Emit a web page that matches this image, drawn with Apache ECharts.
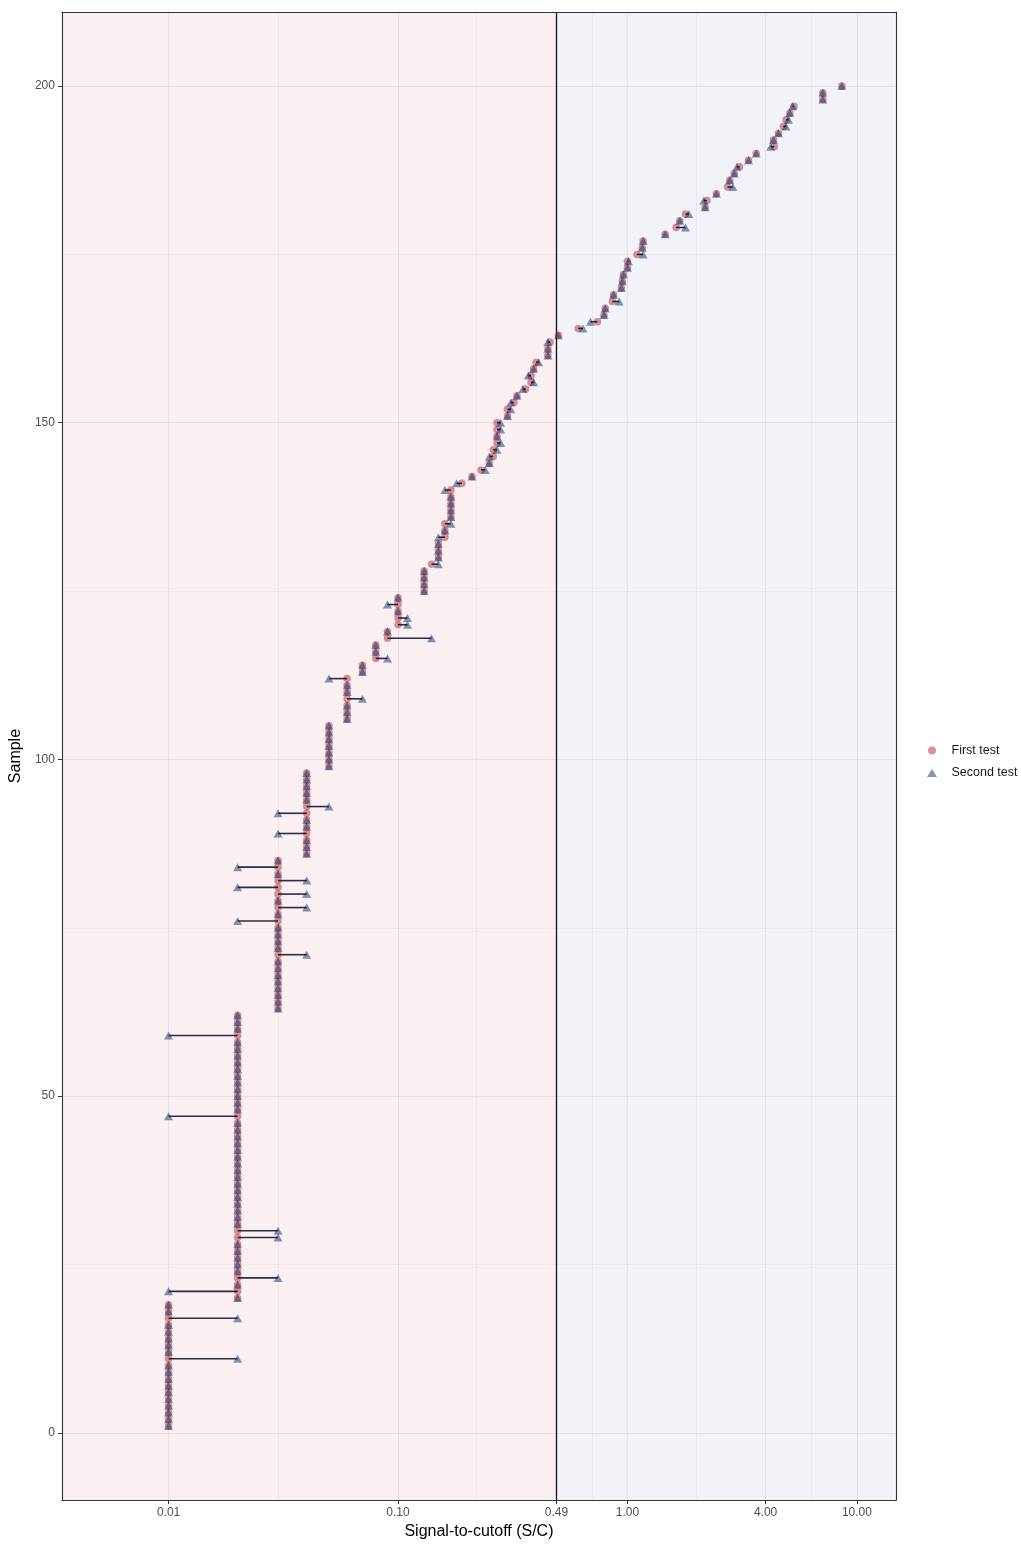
<!DOCTYPE html>
<html>
<head>
<meta charset="utf-8">
<script src="https://cdn.jsdelivr.net/npm/echarts@6/dist/echarts.min.js"></script>
<style>
html,body{margin:0;padding:0;background:#ffffff;overflow:hidden;}
#chart{width:1021px;height:1545px;}
</style>
</head>
<body>
<div id="chart"></div>
<script>
// ---------------- data ----------------
const sampleIds = Array.from({length: 200}, (_, i) => i + 1);

const firstTest = [
  0.01,0.01,0.01,0.01,0.01,0.01,0.01,0.01,0.01,0.01,   // 1-10
  0.01,0.01,0.01,0.01,0.01,0.01,0.01,0.01,0.01,0.02,   // 11-20
  0.02,0.02,0.02,0.02,0.02,0.02,0.02,0.02,0.02,0.02,   // 21-30
  0.02,0.02,0.02,0.02,0.02,0.02,0.02,0.02,0.02,0.02,   // 31-40
  0.02,0.02,0.02,0.02,0.02,0.02,0.02,0.02,0.02,0.02,   // 41-50
  0.02,0.02,0.02,0.02,0.02,0.02,0.02,0.02,0.02,0.02,   // 51-60
  0.02,0.02,0.03,0.03,0.03,0.03,0.03,0.03,0.03,0.03,   // 61-70
  0.03,0.03,0.03,0.03,0.03,0.03,0.03,0.03,0.03,0.03,   // 71-80
  0.03,0.03,0.03,0.03,0.03,0.04,0.04,0.04,0.04,0.04,   // 81-90
  0.04,0.04,0.04,0.04,0.04,0.04,0.04,0.04,0.05,0.05,   // 91-100
  0.05,0.05,0.05,0.05,0.05,0.06,0.06,0.06,0.06,0.06,   // 101-110
  0.06,0.06,0.07,0.07,0.08,0.08,0.08,0.09,0.09,0.10,   // 111-120
  0.10,0.10,0.10,0.10,0.13,0.13,0.13,0.13,0.14,0.15,   // 121-130
  0.15,0.15,0.16,0.16,0.16,0.17,0.17,0.17,0.17,0.17,   // 131-140
  0.19,0.21,0.23,0.25,0.26,0.26,0.27,0.27,0.27,0.27,   // 141-150
  0.30,0.30,0.32,0.33,0.36,0.38,0.38,0.39,0.40,0.45,   // 151-160
  0.45,0.46,0.50,0.61,0.74,0.79,0.80,0.86,0.87,0.94,   // 161-170
  0.95,0.96,1.00,1.00,1.10,1.16,1.17,1.46,1.63,1.69,   // 171-180
  1.79,2.18,2.22,2.44,2.73,2.79,2.92,3.08,3.37,3.64,   // 181-190
  4.36,4.33,4.55,4.78,4.91,5.10,5.32,7.10,7.10,8.60    // 191-200
];

const secondTest = [
  0.01,0.01,0.01,0.01,0.01,0.01,0.01,0.01,0.01,0.01,   // 1-10
  0.02,0.01,0.01,0.01,0.01,0.01,0.02,0.01,0.01,0.02,   // 11-20
  0.01,0.02,0.03,0.02,0.02,0.02,0.02,0.02,0.03,0.03,   // 21-30
  0.02,0.02,0.02,0.02,0.02,0.02,0.02,0.02,0.02,0.02,   // 31-40
  0.02,0.02,0.02,0.02,0.02,0.02,0.01,0.02,0.02,0.02,   // 41-50
  0.02,0.02,0.02,0.02,0.02,0.02,0.02,0.02,0.01,0.02,   // 51-60
  0.02,0.02,0.03,0.03,0.03,0.03,0.03,0.03,0.03,0.03,   // 61-70
  0.04,0.03,0.03,0.03,0.03,0.02,0.03,0.04,0.03,0.04,   // 71-80
  0.02,0.04,0.03,0.02,0.03,0.04,0.04,0.04,0.03,0.04,   // 81-90
  0.04,0.03,0.05,0.04,0.04,0.04,0.04,0.04,0.05,0.05,   // 91-100
  0.05,0.05,0.05,0.05,0.05,0.06,0.06,0.06,0.07,0.06,   // 101-110
  0.06,0.05,0.07,0.07,0.09,0.08,0.08,0.14,0.09,0.11,   // 111-120
  0.11,0.10,0.09,0.10,0.13,0.13,0.13,0.13,0.15,0.15,   // 121-130
  0.15,0.15,0.15,0.16,0.17,0.17,0.17,0.17,0.17,0.16,   // 131-140
  0.18,0.21,0.24,0.25,0.25,0.27,0.28,0.27,0.28,0.28,   // 141-150
  0.30,0.31,0.31,0.33,0.35,0.39,0.37,0.39,0.41,0.45,   // 151-160
  0.45,0.45,0.50,0.64,0.69,0.79,0.80,0.92,0.87,0.94,   // 161-170
  0.95,0.96,1.00,1.01,1.17,1.16,1.17,1.46,1.79,1.69,   // 171-180
  1.85,2.18,2.15,2.44,2.88,2.79,2.92,3.00,3.37,3.64,   // 181-190
  4.21,4.33,4.55,4.91,5.03,5.10,5.25,7.10,7.10,8.60    // 191-200
];

const xTickValues = [0.01, 0.10, 0.49, 1.00, 4.00, 10.00];
const xTickLabels = ['0.01', '0.10', '0.49', '1.00', '4.00', '10.00'];
const yTickValues = [0, 50, 100, 150, 200];
const cutoffValue = 0.49;
const seriesNames = ['First test', 'Second test'];
const xTitle = 'Signal-to-cutoff (S/C)';
const yTitle = 'Sample';

// ---------------- layout / style ----------------
const X_MIN = 0.00343, X_MAX = 14.8;
const Y_MIN = -10, Y_MAX = 211;
const FONT = '"Liberation Sans", Arial, Helvetica, sans-serif';

// minor grid lines halfway between major breaks (in transformed space)
const xMinor = [];
for (let i = 0; i < xTickValues.length - 1; i++) xMinor.push(Math.sqrt(xTickValues[i] * xTickValues[i + 1]));
const yMinor = [];
for (let i = 0; i < yTickValues.length - 1; i++) yMinor.push((yTickValues[i] + yTickValues[i + 1]) / 2);

const gridMajor = {color: 'rgba(60,40,50,0.08)', width: 1.1, type: 'solid'};
const gridMinor = {color: 'rgba(60,40,50,0.065)', width: 0.7, type: 'solid'};

const gridLines = [
  ...xTickValues.map(v => ({xAxis: v, lineStyle: gridMajor})),
  ...xMinor.map(v => ({xAxis: v, lineStyle: gridMinor})),
  ...yTickValues.map(v => ({yAxis: v, lineStyle: gridMajor})),
  ...yMinor.map(v => ({yAxis: v, lineStyle: gridMinor}))
];

function xLabel(v) {
  let best = 0, bd = Infinity;
  xTickValues.forEach((t, i) => { const d = Math.abs(Math.log(v) - Math.log(t)); if (d < bd) { bd = d; best = i; } });
  return xTickLabels[best];
}

const circleColor = 'rgba(170,20,22,0.56)';
const triColor = 'rgba(5,45,105,0.62)';

const chart = echarts.init(document.getElementById('chart'), null, {renderer: 'canvas'});

const option = {
  animation: false,
  backgroundColor: '#ffffff',
  textStyle: {fontFamily: FONT},
  grid: {left: 60, right: 125, top: 12, bottom: 41, containLabel: false},
  legend: {
    orient: 'vertical',
    left: 922,
    top: 738.5,
    itemWidth: 10,
    itemHeight: 8,
    itemGap: 8.5,
    data: [
      {name: seriesNames[0], icon: 'circle'},
      {name: seriesNames[1], icon: 'triangle'}
    ],
    textStyle: {fontFamily: FONT, fontSize: 12.5, color: '#1a1a1a', padding: [0, 0, 0, 9.5], lineHeight: 14}
  },
  xAxis: [
    {
      type: 'log', logBase: 10, min: X_MIN, max: X_MAX, gridIndex: 0, z: 10,
      name: xTitle, nameLocation: 'middle', nameGap: 22,
      nameTextStyle: {fontFamily: FONT, fontSize: 16, color: '#000'},
      axisLine: {show: true, onZero: false, lineStyle: {color: '#333333', width: 1.1}},
      axisTick: {show: true, length: 4, customValues: xTickValues, lineStyle: {color: '#333333', width: 1}},
      axisLabel: {show: true, margin: 7, customValues: xTickValues, formatter: v => xLabel(v),
                  fontFamily: FONT, fontSize: 12, color: '#4d4d4d'},
      splitLine: {show: false}, minorSplitLine: {show: false}
    },
    {
      type: 'log', logBase: 10, min: X_MIN, max: X_MAX, gridIndex: 0, position: 'top', z: 10,
      axisLine: {show: true, onZero: false, lineStyle: {color: '#333333', width: 1.1}},
      axisTick: {show: false}, axisLabel: {show: false}, splitLine: {show: false}
    }
  ],
  yAxis: [
    {
      type: 'value', min: Y_MIN, max: Y_MAX, gridIndex: 0, z: 10,
      name: yTitle, nameLocation: 'middle', nameGap: 33,
      nameTextStyle: {fontFamily: FONT, fontSize: 16, color: '#000'},
      axisLine: {show: true, onZero: false, lineStyle: {color: '#333333', width: 1.1}},
      axisTick: {show: true, length: 4, customValues: yTickValues, lineStyle: {color: '#333333', width: 1}},
      axisLabel: {show: true, margin: 7, customValues: yTickValues,
                  fontFamily: FONT, fontSize: 12, color: '#4d4d4d'},
      splitLine: {show: false}
    },
    {
      type: 'value', min: Y_MIN, max: Y_MAX, gridIndex: 0, position: 'right', z: 10,
      axisLine: {show: true, onZero: false, lineStyle: {color: '#333333', width: 1.1}},
      axisTick: {show: false}, axisLabel: {show: false}, splitLine: {show: false}
    }
  ],
  series: [
    {
      name: 'background', type: 'scatter', data: [], silent: true, z: 1,
      xAxisIndex: 0, yAxisIndex: 0,
      markArea: {
        silent: true, z: 1,
        data: [
          [{xAxis: X_MIN, yAxis: Y_MIN, itemStyle: {color: 'rgba(222,150,160,0.15)'}}, {xAxis: cutoffValue, yAxis: Y_MAX}],
          [{xAxis: cutoffValue, yAxis: Y_MIN, itemStyle: {color: 'rgba(160,172,210,0.15)'}}, {xAxis: X_MAX, yAxis: Y_MAX}]
        ]
      },
      markLine: {
        silent: true, z: 1.5, symbol: ['none', 'none'], label: {show: false},
        emphasis: {disabled: true},
        data: gridLines
      }
    },
    {
      name: 'cutoff', type: 'scatter', data: [], silent: true, z: 1.8,
      markLine: {
        silent: true, z: 1.8, symbol: ['none', 'none'], label: {show: false},
        emphasis: {disabled: true},
        lineStyle: {color: '#111111', width: 1.3, type: 'solid'},
        data: [{xAxis: cutoffValue}]
      }
    },
    {
      name: seriesNames[0], type: 'scatter', z: 2,
      symbol: 'circle', symbolSize: 7.5,
      itemStyle: {color: circleColor},
      data: sampleIds.map((s, i) => [firstTest[i], s])
    },
    {
      name: seriesNames[1], type: 'scatter', z: 3,
      symbol: 'triangle', symbolSize: [9, 8],
      itemStyle: {color: triColor},
      data: sampleIds.map((s, i) => [secondTest[i], s])
    },
    {
      name: 'difference', type: 'custom', z: 4, silent: true,
      data: sampleIds.map((s, i) => [firstTest[i], secondTest[i], s]),
      encode: {x: [0, 1], y: 2},
      renderItem: function (params, api) {
        const a = api.value(0), b = api.value(1), s = api.value(2);
        if (a === b) return {type: 'group', children: []};
        const p1 = api.coord([a, s]);
        const p2 = api.coord([b, s]);
        return {
          type: 'line',
          shape: {x1: p1[0], y1: p1[1], x2: p2[0], y2: p2[1]},
          style: {stroke: 'rgba(22,22,50,0.9)', lineWidth: 1.6}
        };
      }
    }
  ]
};

chart.setOption(option);
</script>
</body>
</html>
